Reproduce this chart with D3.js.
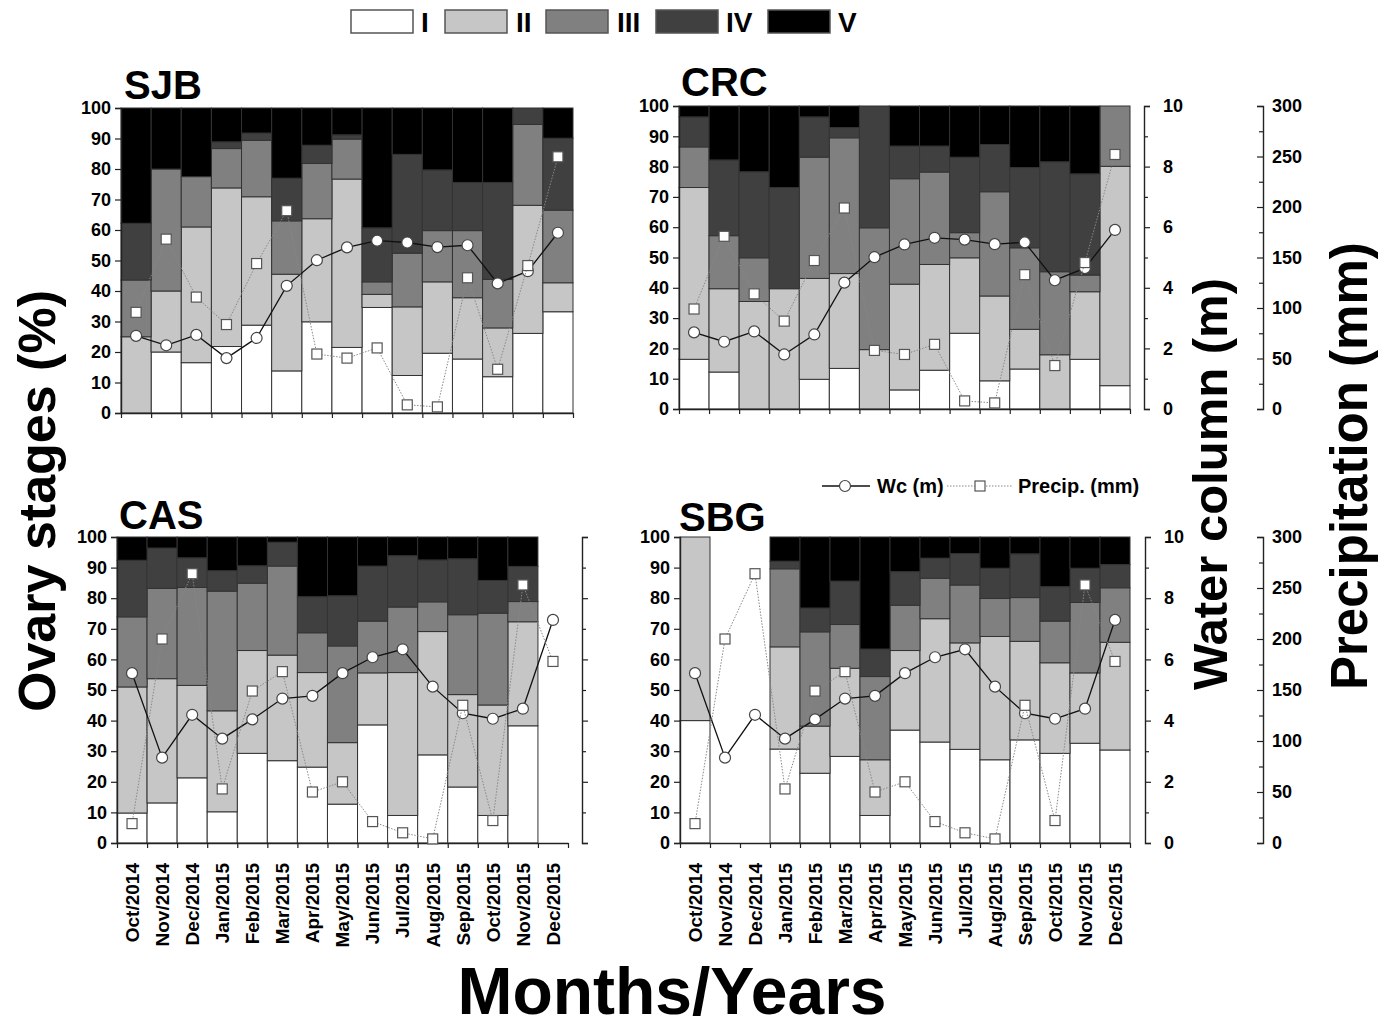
<!DOCTYPE html>
<html lang="en">
<head>
<meta charset="utf-8">
<title>Ovary stages</title>
<script src="https://cdn.jsdelivr.net/npm/d3@7"></script>
<style>
  body { margin: 0; background: #fff; }
  text { font-family: "Liberation Sans", Arial, sans-serif; font-weight: bold; fill: #000; }
</style>
</head>
<body>
<script>
// months on the x axis
const months = ["Oct/2014","Nov/2014","Dec/2014","Jan/2015","Feb/2015","Mar/2015","Apr/2015",
  "May/2015","Jun/2015","Jul/2015","Aug/2015","Sep/2015","Oct/2015","Nov/2015","Dec/2015"];
const stageNames = ["I","II","III","IV","V"];
const stageColors = ["#ffffff","#c6c6c6","#808080","#404040","#000000"];

// % of each ovary stage per month [I, II, III, IV, V]; null = no sample
const sjbStages = [
  [0,25,18.6,18.6,37.8],[20,20,40,0,20],[16.5,44.5,16.5,0,22.5],[21.8,52,12.9,2.2,11.1],
  [28.8,42.1,18.5,2.4,8.2],[13.8,31.7,17.5,14,23],[29.9,33.8,18.1,6,12.2],[21.5,55.2,13.1,1.4,8.8],
  [34.6,4.3,4.1,17.7,39.3],[12.3,22.5,17.6,32.4,15.2],[19.6,23.4,16.8,19.9,20.3],[17.7,20.1,22,15.8,24.4],
  [11.9,16,15.9,31.8,24.4],[26.1,42,26.5,5.4,0],[33.2,9.5,23.8,23.6,9.9]];
const crcStages = [
  [16.4,56.7,13.4,9.9,3.6],[12.2,27.5,17.5,25,17.8],[0,35.5,14.4,28.4,21.7],[0,39.7,0,33.4,26.9],
  [9.8,33.3,40,13.3,3.6],[13.4,31.3,44.8,3.4,7.1],[0,19.6,40.2,40.2,0],[6.3,34.9,34.8,10.8,13.2],
  [12.8,34.9,30.5,8.6,13.2],[25,24.9,8.3,24.9,16.9],[9.3,28,34.4,15.6,12.7],[13.2,13.1,26.9,26.5,20.3],
  [0,17.9,27.4,36.3,18.4],[16.4,22.3,5.5,33.4,22.4],[7.7,72.4,19.9,0,0]];
const casStages = [
  [9.8,41.2,22.9,18.5,7.6],[13.1,40.6,29.5,13.2,3.6],[21.3,30.2,32,9.7,6.8],[10.2,33,39.1,6.7,11],
  [29.3,33.6,22,5.7,9.4],[26.9,34.5,29.1,7.8,1.7],[24.8,30.9,13,11.8,19.5],[12.7,20.1,31.6,16.4,19.2],
  [38.6,17,16.9,18,9.5],[9,46.7,21.4,16.8,6.1],[28.8,40.3,9.7,13.7,7.5],[18.3,30.2,26.1,18.3,7.1],
  [9,36.1,30,10.7,14.2],[38.3,34,6.6,11.5,9.6],null];
const sbgStages = [
  [40,60,0,0,0],null,null,[30.7,33.4,25.5,2.5,7.9],
  [22.8,15.4,30.8,7.8,23.2],[28.3,28.8,14.3,14.2,14.4],[9,18.2,27.2,9,36.6],[36.9,26,14.8,11,11.3],
  [33,40.3,13.2,6.6,6.9],[30.6,34.8,18.9,10.3,5.4],[27.2,40.3,12.4,9.9,10.2],[33.7,32.2,14.3,14.3,5.5],
  [29.3,29.6,13.6,11.3,16.2],[32.6,23,23,11.2,10.2],[30.4,35.2,17.8,7.6,9]];

// water column (m) and precipitation (mm)
const wcNorth = [2.53,2.22,2.56,1.80,2.46,4.17,5.01,5.43,5.65,5.59,5.44,5.50,4.25,4.65,5.91];
const precipNorth = [99,171,114,87,147,199,58,54,64,8,6,133,43,145,252];
const wcSouth = [5.55,2.79,4.19,3.41,4.04,4.72,4.81,5.55,6.07,6.33,5.11,4.24,4.06,4.39,7.29];
const precipSouth = [19,200,264,53,149,168,50,60,21,10,4,135,22,253,178];

const W = 1382, H = 1027;
const svg = d3.select("body").append("svg").attr("width", W).attr("height", H);

const panels = [
  {name:"SJB", stages:sjbStages, wc:wcNorth, pr:precipNorth, x0:121, x1:573, y0:413, y1:108, tx:124, ty:99, labels:false, right:"none"},
  {name:"CRC", stages:crcStages, wc:wcNorth, pr:precipNorth, x0:679, x1:1130, y0:409, y1:106, tx:681, ty:96, labels:false, right:"full", rx:1144, px:1263},
  {name:"CAS", stages:casStages, wc:wcSouth, pr:precipSouth, x0:117, x1:568, y0:843, y1:537, tx:119, ty:529, labels:true, right:"bare", rx:582},
  {name:"SBG", stages:sbgStages, wc:wcSouth, pr:precipSouth, x0:680, x1:1130, y0:843, y1:537, tx:679, ty:531, labels:true, right:"full", rx:1145, px:1263}
];

function styleAxis(g) {
  g.selectAll("path.domain").attr("stroke", "#222").attr("stroke-width", 1.4);
  g.selectAll(".tick line").attr("stroke", "#222").attr("stroke-width", 1.2);
  g.selectAll(".tick text").style("font-size", "18px").style("font-weight", "bold")
    .style("font-family", "'Liberation Sans', Arial, sans-serif").attr("fill", "#000");
}

panels.forEach(function(p) {
  const g = svg.append("g");
  const x = d3.scaleLinear().domain([0, 15]).range([p.x0, p.x1]);
  const y = d3.scaleLinear().domain([0, 100]).range([p.y0, p.y1]);
  const yWc = d3.scaleLinear().domain([0, 10]).range([p.y0, p.y1]);
  const yPr = d3.scaleLinear().domain([0, 300]).range([p.y0, p.y1]);

  // stacked bars
  const rows = [];
  p.stages.forEach(function(r, i) {
    if (!r) return;
    const o = {i: i};
    stageNames.forEach(function(s, k) { o[s] = r[k]; });
    rows.push(o);
  });
  const series = d3.stack().keys(stageNames)(rows);
  series.forEach(function(s, k) {
    g.selectAll(null)
      .data(s.filter(function(d) { return d[1] - d[0] > 0.01; }))
      .enter()
      .append("rect")
      .attr("x", function(d) { return x(d.data.i); })
      .attr("width", x(1) - x(0))
      .attr("y", function(d) { return y(d[1]); })
      .attr("height", function(d) { return y(d[0]) - y(d[1]); })
      .attr("fill", stageColors[k])
      .attr("stroke", "#333")
      .attr("stroke-width", 1);
  });

  // left axis
  const ya = g.append("g").attr("transform", "translate(" + p.x0 + ",0)")
    .call(d3.axisLeft(y).tickValues(d3.range(0, 101, 10)).tickSize(6).tickPadding(4));
  styleAxis(ya);

  // bottom axis
  const xa = g.append("g").attr("transform", "translate(0," + p.y0 + ")")
    .call(d3.axisBottom(x).tickValues(d3.range(0, 16)).tickSize(5).tickSizeOuter(0).tickFormat(""));
  styleAxis(xa);

  if (p.labels) {
    g.selectAll(null).data(months).enter().append("text")
      .attr("transform", function(d, i) { return "translate(" + x(i + 0.5) + "," + (p.y0 + 20) + ") rotate(-90)"; })
      .attr("text-anchor", "end")
      .attr("dy", "0.36em")
      .style("font-size", "19px")
      .text(function(d) { return d; });
  }

  // right axes
  if (p.right === "full" || p.right === "bare") {
    const wa = g.append("g").attr("transform", "translate(" + p.rx + ",0)")
      .call(d3.axisRight(yWc).tickValues(d3.range(0, 11)).tickSize(6).tickPadding(13)
        .tickFormat(function(d) { return (p.right === "full" && d % 2 === 0) ? d : ""; }));
    styleAxis(wa);
    wa.selectAll(".tick line").attr("x2", function(d) { return d % 2 ? 4 : 6; });
  }
  if (p.right === "full") {
    const pa = g.append("g").attr("transform", "translate(" + p.px + ",0)")
      .call(d3.axisRight(yPr).tickValues(d3.range(0, 301, 25)).tickSize(-6).tickSizeOuter(-6).tickPadding(9)
        .tickFormat(function(d) { return d % 50 === 0 ? d : ""; }));
    styleAxis(pa);
    pa.selectAll(".tick line").attr("x2", function(d) { return d % 50 ? -4 : -6; });
  }

  // water column line
  const idx = d3.range(15);
  g.append("path")
    .attr("d", d3.line().x(function(i) { return x(i + 0.5); }).y(function(i) { return yWc(p.wc[i]); })(idx))
    .attr("fill", "none").attr("stroke", "#111").attr("stroke-width", 1.3);
  g.selectAll(null).data(idx).enter().append("circle")
    .attr("cx", function(i) { return x(i + 0.5); })
    .attr("cy", function(i) { return yWc(p.wc[i]); })
    .attr("r", 5.5)
    .attr("fill", "#fff").attr("stroke", "#444").attr("stroke-width", 1.2);

  // precipitation line
  g.append("path")
    .attr("d", d3.line().x(function(i) { return x(i + 0.5); }).y(function(i) { return yPr(p.pr[i]); })(idx))
    .attr("fill", "none").attr("stroke", "#888").attr("stroke-width", 1).attr("stroke-dasharray", "1.5,1.5");
  g.selectAll(null).data(idx).enter().append("rect")
    .attr("x", function(i) { return x(i + 0.5) - 5; })
    .attr("y", function(i) { return yPr(p.pr[i]) - 5; })
    .attr("width", 10).attr("height", 10)
    .attr("fill", "#fff").attr("stroke", "#555").attr("stroke-width", 1.2);

  // panel title
  svg.append("text").attr("x", p.tx).attr("y", p.ty).style("font-size", "40px").text(p.name);
});

// stage legend
const legX = [351, 445, 546, 656, 768];
const legLabelX = [421, 516, 617, 726, 838];
stageNames.forEach(function(s, k) {
  svg.append("rect").attr("x", legX[k]).attr("y", 10).attr("width", 62).attr("height", 23)
    .attr("fill", stageColors[k]).attr("stroke", "#555").attr("stroke-width", 1.5);
  svg.append("text").attr("x", legLabelX[k]).attr("y", 32).style("font-size", "28px").text(s);
});

// line legend
svg.append("line").attr("x1", 822).attr("x2", 870).attr("y1", 486).attr("y2", 486)
  .attr("stroke", "#111").attr("stroke-width", 1.3);
svg.append("circle").attr("cx", 845).attr("cy", 486).attr("r", 5.5)
  .attr("fill", "#fff").attr("stroke", "#444").attr("stroke-width", 1.2);
svg.append("text").attr("x", 877).attr("y", 493).style("font-size", "20px").text("Wc (m)");
svg.append("line").attr("x1", 947).attr("x2", 1012).attr("y1", 486).attr("y2", 486)
  .attr("stroke", "#888").attr("stroke-width", 1).attr("stroke-dasharray", "1.5,1.5");
svg.append("rect").attr("x", 975).attr("y", 481).attr("width", 10).attr("height", 10)
  .attr("fill", "#fff").attr("stroke", "#555").attr("stroke-width", 1.2);
svg.append("text").attr("x", 1018).attr("y", 493).style("font-size", "20px").text("Precip. (mm)");

// axis titles
svg.append("text").attr("transform", "translate(55,712) rotate(-90)").attr("text-anchor", "start")
  .style("font-size", "52px").text("Ovary stages (%)");
svg.append("text").attr("transform", "translate(1227,690) rotate(-90)").attr("text-anchor", "start")
  .style("font-size", "49px").text("Water column (m)");
svg.append("text").attr("transform", "translate(1367,690) rotate(-90)").attr("text-anchor", "start")
  .style("font-size", "51px").text("Precipitation (mm)");
svg.append("text").attr("x", 672).attr("y", 1014).attr("text-anchor", "middle")
  .style("font-size", "66px").text("Months/Years");
</script>
</body>
</html>
